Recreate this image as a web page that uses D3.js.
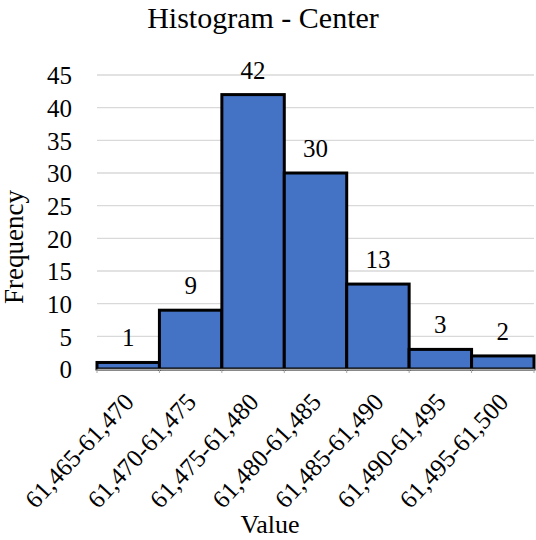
<!DOCTYPE html>
<html lang="en">
<head>
    <meta charset="UTF-8">
    <script type="text/javascript" src="https://cdn.jsdelivr.net/npm/d3@7/dist/d3.min.js"></script>
    <title>Histogram - Center</title>
    <style>
        body { margin: 0; background: #fff; }
    </style>
</head>
<body>
    <svg width='536' height='540'></svg>

    <script>
        // data
        const bins = ['61,465-61,470', '61,470-61,475', '61,475-61,480', '61,480-61,485',
                      '61,485-61,490', '61,490-61,495', '61,495-61,500'];
        const counts = [1, 9, 42, 30, 13, 3, 2];
        const yTicks = [0, 5, 10, 15, 20, 25, 30, 35, 40, 45];

        const FONT = 'Liberation Serif, Times New Roman, serif';

        const svg = d3.select('svg').attr('font-family', FONT);
        const margin = { top: 75, left: 97, right: 2, bottom: 171 };
        const width = 536 - margin.left - margin.right;
        const height = 540 - margin.top - margin.bottom;

        const g = svg.append('g')
            .attr('transform', `translate(${margin.left}, ${margin.top})`);

        const xScale = d3.scaleBand().domain(bins).range([0, width]).padding(0);
        const yScale = d3.scaleLinear().domain([0, 45]).range([height, 0]);

        // gridlines
        g.append('g')
            .selectAll('line')
            .data(yTicks.slice(1))
            .enter()
            .append('line')
            .attr('x1', 0).attr('x2', width)
            .attr('y1', d => yScale(d)).attr('y2', d => yScale(d))
            .attr('stroke', '#d9d9d9').attr('stroke-width', 1.3);

        // y axis labels
        const yAxis = d3.axisLeft(yScale).tickValues(yTicks).tickSize(0).tickPadding(25);
        const ya = g.append('g').call(yAxis)
            .attr('font-family', FONT).attr('font-size', 25);
        ya.select('.domain').remove();
        ya.selectAll('text').attr('fill', '#000').attr('dy', '0.35em');

        // bars
        g.append('g')
            .selectAll('rect')
            .data(counts)
            .enter()
            .append('rect')
            .attr('x', (d, i) => xScale(bins[i]))
            .attr('y', d => yScale(d))
            .attr('width', xScale.bandwidth())
            .attr('height', d => height - yScale(d))
            .attr('fill', '#4472c4')
            .attr('stroke', '#000')
            .attr('stroke-width', 3);

        // x axis
        const xa = g.append('g')
            .attr('transform', `translate(0, ${height})`)
            .call(d3.axisBottom(xScale).tickSize(0).tickPadding(0))
            .attr('font-family', FONT).attr('font-size', 25);
        xa.select('.domain').attr('stroke', '#a6a6a6').attr('stroke-width', 1.5);
        xa.selectAll('.tick text')
            .attr('fill', '#000')
            .attr('text-anchor', 'end')
            .attr('dy', null)
            .attr('transform', 'translate(7, 34) rotate(-47)');
        // small ticks between bins
        xa.append('g')
            .selectAll('line')
            .data(d3.range(bins.length + 1))
            .enter()
            .append('line')
            .attr('x1', i => i * xScale.step()).attr('x2', i => i * xScale.step())
            .attr('y1', 0).attr('y2', 4)
            .attr('stroke', '#a6a6a6');

        // data labels
        g.append('g')
            .selectAll('text')
            .data(counts)
            .enter()
            .append('text')
            .attr('x', (d, i) => xScale(bins[i]) + xScale.bandwidth() / 2)
            .attr('y', d => yScale(d) - 16)
            .attr('text-anchor', 'middle')
            .attr('font-size', 25)
            .text(d => d);

        // title and axis titles
        svg.append('text')
            .attr('x', 263).attr('y', 28)
            .attr('text-anchor', 'middle')
            .attr('font-size', 30)
            .text('Histogram - Center');

        svg.append('text')
            .attr('transform', `translate(23, 247) rotate(-90)`)
            .attr('text-anchor', 'middle')
            .attr('font-size', 27)
            .text('Frequency');

        svg.append('text')
            .attr('x', 270).attr('y', 533)
            .attr('text-anchor', 'middle')
            .attr('font-size', 26)
            .text('Value');
    </script>
</body>
</html>
